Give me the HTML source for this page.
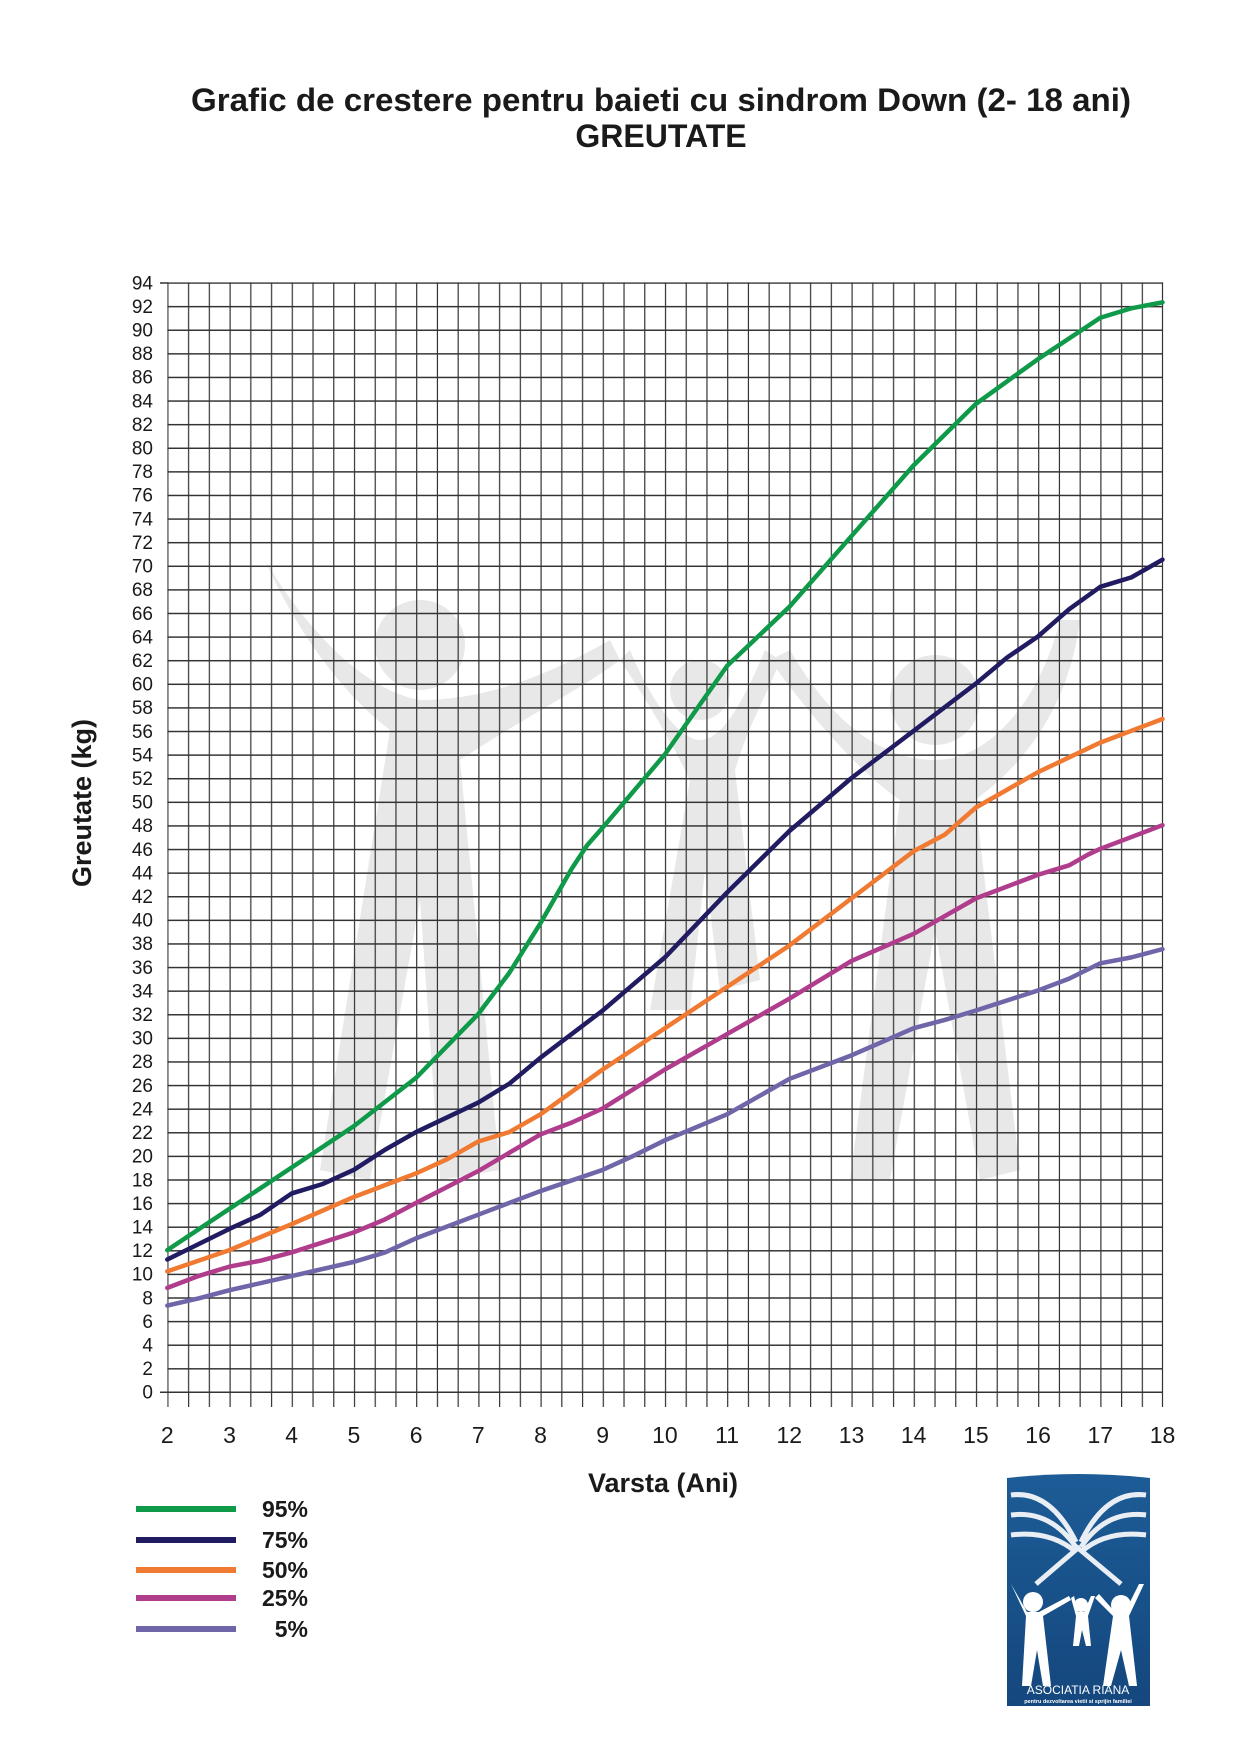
<!DOCTYPE html>
<html><head><meta charset="utf-8"><style>
html,body{margin:0;padding:0;background:#fff;}
svg text{font-family:"Liberation Sans",Arial,sans-serif;}
</style></head><body>
<svg width="1241" height="1754" viewBox="0 0 1241 1754" xmlns="http://www.w3.org/2000/svg">
<defs>
<pattern id="g" x="167.3" y="282.3" width="62.2" height="23.604" patternUnits="userSpaceOnUse">
<line x1="0.6" y1="0" x2="0.6" y2="23.604" stroke="#333" stroke-width="1.2"/>
<line x1="21.33" y1="0" x2="21.33" y2="23.604" stroke="#333" stroke-width="1.2"/>
<line x1="42.07" y1="0" x2="42.07" y2="23.604" stroke="#333" stroke-width="1.2"/>
<line x1="0" y1="0.7" x2="62.2" y2="0.7" stroke="#333" stroke-width="1.5"/>
</pattern>
<pattern id="v" x="167.3" y="0" width="20.733" height="20" patternUnits="userSpaceOnUse">
<line x1="0.6" y1="0" x2="0.6" y2="20" stroke="#333" stroke-width="1.2"/>
</pattern>
<linearGradient id="lg" x1="0" y1="0" x2="0" y2="1"><stop offset="0" stop-color="#1d5c97"/><stop offset="1" stop-color="#14477d"/></linearGradient>
</defs>
<rect width="1241" height="1754" fill="#fff"/>
<text x="661" y="111" font-size="32" font-weight="bold" text-anchor="middle" fill="#1a1a1a" textLength="940" lengthAdjust="spacingAndGlyphs">Grafic de crestere pentru baieti cu sindrom Down (2- 18 ani)</text>
<text x="661" y="147" font-size="32" font-weight="bold" text-anchor="middle" fill="#1a1a1a">GREUTATE</text>
<!-- watermark -->
<g fill="#e6e6e6" opacity="0.9">
<circle cx="420" cy="645" r="45"/>
<path d="M265 560 C300 640 350 700 390 730 L320 1170 L370 1180 L420 900 L440 1180 L500 1170 L460 760 C520 720 580 690 620 660 L610 640 C540 680 480 700 420 700 C360 690 300 620 265 560Z"/>
<circle cx="700" cy="690" r="30"/>
<path d="M620 660 C660 720 680 760 690 780 L650 1010 L690 1010 L705 870 L720 990 L760 980 L735 770 C750 720 770 690 780 660 L765 650 C740 710 720 740 700 740 C680 740 650 700 630 650Z"/>
<circle cx="935" cy="700" r="45"/>
<path d="M770 660 C820 730 870 780 900 800 L850 1180 L890 1180 L935 930 L980 1180 L1020 1170 L975 800 C1030 760 1070 700 1080 620 L1060 620 C1040 700 990 760 935 760 C880 760 830 720 790 650Z"/>
</g>
<rect x="167.3" y="282.3" width="995.2" height="1109.4" fill="url(#g)"/>
<rect x="167.3" y="1391.7" width="995.2" height="15.3" fill="url(#v)"/>
<line x1="1162.5" y1="282.3" x2="1162.5" y2="1407" stroke="#333" stroke-width="1.2"/>
<line x1="160" y1="1392.2" x2="1162.5" y2="1392.2" stroke="#333" stroke-width="1.5"/>
<g stroke="#333" stroke-width="1.5">
<line x1="160" y1="283" x2="168" y2="283"/>
</g>
<g font-size="19" text-anchor="end" fill="#1a1a1a">
<text x="153" y="289.3">94</text><text x="153" y="312.9">92</text><text x="153" y="336.5">90</text><text x="153" y="360.1">88</text><text x="153" y="383.7">86</text><text x="153" y="407.3">84</text><text x="153" y="430.9">82</text><text x="153" y="454.5">80</text><text x="153" y="478.1">78</text><text x="153" y="501.7">76</text><text x="153" y="525.3">74</text><text x="153" y="548.9">72</text><text x="153" y="572.5">70</text><text x="153" y="596.2">68</text><text x="153" y="619.8">66</text><text x="153" y="643.4">64</text><text x="153" y="667">62</text><text x="153" y="690.6">60</text><text x="153" y="714.2">58</text><text x="153" y="737.8">56</text><text x="153" y="761.4">54</text><text x="153" y="785">52</text><text x="153" y="808.6">50</text><text x="153" y="832.2">48</text><text x="153" y="855.8">46</text><text x="153" y="879.4">44</text><text x="153" y="903">42</text><text x="153" y="926.6">40</text><text x="153" y="950.2">38</text><text x="153" y="973.8">36</text><text x="153" y="997.4">34</text><text x="153" y="1021">32</text><text x="153" y="1044.6">30</text><text x="153" y="1068.2">28</text><text x="153" y="1091.8">26</text><text x="153" y="1115.5">24</text><text x="153" y="1139.1">22</text><text x="153" y="1162.7">20</text><text x="153" y="1186.3">18</text><text x="153" y="1209.9">16</text><text x="153" y="1233.5">14</text><text x="153" y="1257.1">12</text><text x="153" y="1280.7">10</text><text x="153" y="1304.3">8</text><text x="153" y="1327.9">6</text><text x="153" y="1351.5">4</text><text x="153" y="1375.1">2</text><text x="153" y="1398.7">0</text>
</g>
<g font-size="23" text-anchor="middle" fill="#1a1a1a">
<text x="167.3" y="1443">2</text><text x="229.5" y="1443">3</text><text x="291.7" y="1443">4</text><text x="353.9" y="1443">5</text><text x="416.1" y="1443">6</text><text x="478.3" y="1443">7</text><text x="540.5" y="1443">8</text><text x="602.7" y="1443">9</text><text x="664.9" y="1443">10</text><text x="727.1" y="1443">11</text><text x="789.3" y="1443">12</text><text x="851.5" y="1443">13</text><text x="913.7" y="1443">14</text><text x="975.9" y="1443">15</text><text x="1038.1" y="1443">16</text><text x="1100.3" y="1443">17</text><text x="1162.5" y="1443">18</text>
</g>
<text x="663" y="1492" font-size="27" font-weight="bold" text-anchor="middle" fill="#1a1a1a">Varsta (Ani)</text>
<text transform="translate(91,803) rotate(-90)" font-size="27" font-weight="bold" text-anchor="middle" fill="#1a1a1a">Greutate (kg)</text>
<g transform="translate(167.3,1391.7) scale(62.2,11.802)" fill="none" stroke-width="4.5" stroke-linejoin="round" stroke-linecap="round">
<polyline vector-effect="non-scaling-stroke" stroke="#6e66a8" points="0,-7.3 0.5,-7.9 1,-8.6 2,-9.8 3,-11 3.5,-11.8 4,-13 5,-15 6,-17 7,-18.8 7.5,-20 8,-21.3 9,-23.5 10,-26.5 11,-28.5 12,-30.8 12.5,-31.5 13,-32.3 14,-34 14.5,-35 15,-36.3 15.5,-36.8 16,-37.5"/>
<polyline vector-effect="non-scaling-stroke" stroke="#b03c8c" points="0,-8.8 0.5,-9.8 1,-10.6 1.5,-11.1 2,-11.8 3,-13.5 3.5,-14.6 4,-16 5,-18.7 6,-21.8 6.5,-22.8 7,-24 8,-27.3 9,-30.3 10,-33.3 11,-36.5 12,-38.8 13,-41.8 14,-43.8 14.5,-44.6 14.8,-45.5 15,-46 16,-48"/>
<polyline vector-effect="non-scaling-stroke" stroke="#f07a32" points="0,-10.2 1,-12 2,-14.2 3,-16.5 3.5,-17.5 4,-18.5 4.5,-19.7 5,-21.2 5.5,-22 6,-23.5 7,-27.3 8,-30.8 9,-34.3 10,-37.8 11,-41.8 12,-45.8 12.5,-47.2 13,-49.5 14,-52.5 15,-55 16,-57"/>
<polyline vector-effect="non-scaling-stroke" stroke="#211c62" points="0,-11.2 1,-13.8 1.5,-15 2,-16.8 2.5,-17.6 3,-18.8 3.5,-20.5 4,-22 5,-24.5 5.5,-26.1 6,-28.3 7,-32.3 8,-36.8 9,-42.3 10,-47.5 11,-52 12,-56 13,-60 13.5,-62.2 14,-64 14.5,-66.3 15,-68.2 15.5,-69 16,-70.5"/>
<polyline vector-effect="non-scaling-stroke" stroke="#0f9a4a" points="0,-12 1,-15.5 2,-19 3,-22.5 4,-26.6 5,-32 5.5,-35.5 6,-39.7 6.5,-44.3 6.75,-46.3 7,-47.8 8,-54 9,-61.5 10,-66.5 11,-72.5 12,-78.5 13,-83.7 14,-87.5 15,-91 15.5,-91.8 16,-92.3"/>
</g>
<g stroke-width="6">
<line x1="136" y1="1509" x2="236" y2="1509" stroke="#0f9a4a"/>
<line x1="136" y1="1540" x2="236" y2="1540" stroke="#211c62"/>
<line x1="136" y1="1570" x2="236" y2="1570" stroke="#f07a32"/>
<line x1="136" y1="1598" x2="236" y2="1598" stroke="#b03c8c"/>
<line x1="136" y1="1629" x2="236" y2="1629" stroke="#6e66a8"/>
</g>
<g font-size="23" font-weight="bold" text-anchor="end" fill="#1a1a1a">
<text x="308" y="1517">95%</text><text x="308" y="1548">75%</text><text x="308" y="1578">50%</text><text x="308" y="1606">25%</text><text x="308" y="1637">5%</text>
</g>
<!-- logo -->
<g>
<path d="M1007 1478 Q1078 1470 1150 1478 L1150 1706 L1007 1706Z" fill="url(#lg)"/>
<g fill="none" stroke="#fff" stroke-width="5" opacity="0.9">
<path d="M1011 1495 Q1050 1490 1076 1542"/><path d="M1011 1515 Q1050 1510 1076 1547"/><path d="M1011 1535 Q1050 1530 1076 1552"/>
<path d="M1146 1495 Q1106 1490 1081 1542"/><path d="M1146 1515 Q1106 1510 1081 1547"/><path d="M1146 1535 Q1106 1530 1081 1552"/>
<path d="M1036 1584 L1078 1548 L1121 1584"/>
</g>
<g fill="#fff">
<circle cx="1033" cy="1602" r="10"/><circle cx="1081" cy="1605" r="7"/><circle cx="1121" cy="1605" r="10"/>
<path d="M1011 1584 L1026 1616 L1022 1686 L1031 1686 L1037 1650 L1043 1686 L1051 1686 L1043 1616 L1071 1600 L1069 1596 L1039 1612 L1027 1612Z"/>
<path d="M1071 1598 L1076 1616 L1073 1646 L1079 1646 L1082 1630 L1086 1646 L1091 1646 L1088 1616 L1095 1596 L1091 1596 L1084 1612 L1078 1612 L1074 1596Z"/>
<path d="M1095 1598 L1113 1616 L1103 1686 L1111 1686 L1121 1650 L1129 1686 L1137 1686 L1129 1616 L1144 1584 L1139 1584 L1125 1612 L1115 1612 L1099 1594Z"/>
</g>
<text x="1078" y="1694" font-size="12" fill="#fff" text-anchor="middle">ASOCIATIA RIANA</text>
<text x="1078" y="1703" font-size="5.5" font-weight="bold" fill="#fff" text-anchor="middle">pentru dezvoltarea vietii si sprijin familiei</text>
</g>
</svg>
</body></html>
